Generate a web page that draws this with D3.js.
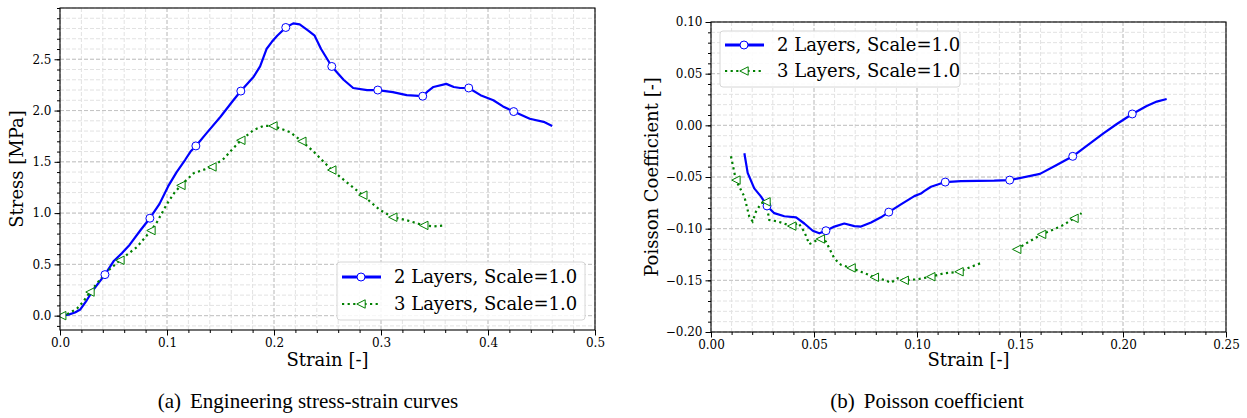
<!DOCTYPE html>
<html>
<head>
<meta charset="utf-8">
<script src="https://cdn.jsdelivr.net/npm/d3@7"></script>
<style>
body { margin: 0; background: #fff; }
svg { display: block; }
.tick text { font-family: "DejaVu Serif", serif; font-size: 12px; fill: #000; }
.label { font-family: "DejaVu Serif", serif; font-size: 18px; fill: #000; }
.legend text { font-family: "DejaVu Serif", serif; font-size: 18px; fill: #000; }
.caption { font-family: "Liberation Serif", "Times New Roman", serif; font-size: 21px; fill: #000; }
</style>
</head>
<body>
<div id="chart"></div>
<script>

// (a) stress-strain, 2 layers
var strainA2 = [0, 0.008, 0.014, 0.019, 0.025, 0.031, 0.042, 0.050, 0.058, 0.065, 0.075, 0.084, 0.093, 0.101,
    0.109, 0.117, 0.122, 0.127, 0.137, 0.150, 0.162, 0.169, 0.181, 0.187, 0.193, 0.198, 0.203, 0.211, 0.218, 0.224,
    0.232, 0.238, 0.244, 0.254, 0.265, 0.274, 0.287, 0.297, 0.311, 0.324, 0.339, 0.344, 0.349, 0.361, 0.368,
    0.374, 0.382, 0.393, 0.405, 0.414, 0.424, 0.439, 0.452, 0.460];
var stressA2 = [0, 0.01, 0.03, 0.06, 0.15, 0.25, 0.40, 0.53, 0.61, 0.69, 0.83, 0.95, 1.09, 1.26,
    1.40, 1.52, 1.60, 1.655, 1.78, 1.94, 2.10, 2.19, 2.33, 2.43, 2.60, 2.67, 2.73, 2.81, 2.85, 2.84,
    2.78, 2.73, 2.60, 2.43, 2.30, 2.22, 2.20, 2.20, 2.18, 2.15, 2.14, 2.19, 2.23, 2.26, 2.23,
    2.22, 2.22, 2.15, 2.10, 2.04, 1.99, 1.92, 1.89, 1.85];
var markStrainA2 = [0.042, 0.084, 0.127, 0.169, 0.211, 0.254, 0.297, 0.339, 0.382, 0.424];
var markStressA2 = [0.40, 0.95, 1.655, 2.19, 2.81, 2.43, 2.20, 2.14, 2.22, 1.99];

// (a) stress-strain, 3 layers
var strainA3 = [0.0016, 0.008, 0.016, 0.022, 0.028, 0.035, 0.042, 0.056, 0.072, 0.085, 0.090, 0.100, 0.107,
    0.113, 0.125, 0.142, 0.153, 0.160, 0.169, 0.181, 0.190, 0.199, 0.215, 0.226, 0.237, 0.254, 0.268,
    0.283, 0.290, 0.299, 0.311, 0.324, 0.340, 0.349, 0.359];
var stressA3 = [0, 0.02, 0.07, 0.14, 0.23, 0.32, 0.41, 0.54, 0.67, 0.83, 0.90, 1.09, 1.20,
    1.27, 1.39, 1.45, 1.53, 1.61, 1.71, 1.81, 1.85, 1.85, 1.79, 1.70, 1.60, 1.42, 1.30,
    1.175, 1.11, 1.03, 0.96, 0.93, 0.88, 0.87, 0.88];
var markStrainA3 = [0.0016, 0.028, 0.056, 0.085, 0.113, 0.142, 0.169, 0.199, 0.226, 0.254, 0.283, 0.311, 0.340];
var markStressA3 = [0, 0.23, 0.54, 0.83, 1.27, 1.45, 1.71, 1.85, 1.70, 1.42, 1.175, 0.96, 0.88];

// (b) poisson coefficient, 2 layers
var strainB2 = [0.0162, 0.0178, 0.021, 0.0243, 0.0272, 0.0307, 0.0356, 0.0413, 0.0453, 0.0494, 0.0526, 0.0558,
    0.0599, 0.0647, 0.0696, 0.0728, 0.0777, 0.0825, 0.0863, 0.0922, 0.0987, 0.1019, 0.1035, 0.1068, 0.1137,
    0.1213, 0.1375, 0.1450, 0.1597, 0.1678, 0.1756, 0.1840, 0.1905, 0.197, 0.2045, 0.2115, 0.2164, 0.2212];
var poissonB2 = [-0.027, -0.046, -0.061, -0.069, -0.078, -0.085, -0.088, -0.089, -0.095, -0.102, -0.1045, -0.102,
    -0.098, -0.095, -0.0975, -0.098, -0.094, -0.089, -0.084, -0.0765, -0.0685, -0.066, -0.0636, -0.0594, -0.0549,
    -0.054, -0.0536, -0.053, -0.047, -0.0384, -0.030, -0.0174, -0.0077, 0.0013, 0.011, 0.0187, 0.023, 0.0255];
var markStrainB2 = [0.0272, 0.0558, 0.0863, 0.1137, 0.1450, 0.1756, 0.2045];
var markPoissonB2 = [-0.078, -0.102, -0.084, -0.0549, -0.053, -0.030, 0.011];

// (b) poisson coefficient, 3 layers (null = missing values)
var strainB3 = [0.0097, 0.0121, 0.0162, 0.0186, 0.0202, 0.0218, 0.0243, 0.0267, 0.0283, 0.0324, 0.0392, 0.0424,
    0.0453, 0.0477, 0.0510, 0.0531, 0.0558, 0.0599, 0.0631, 0.0680, 0.0728, 0.0793, 0.0842, 0.0874, 0.0906,
    0.0938, 0.1002, 0.1067, 0.1131, 0.1204, 0.1261, 0.1306, null, 0.1484, 0.1532, 0.1605, 0.1661, 0.171,
    0.1762, 0.1799];
var poissonB3 = [-0.030, -0.053, -0.069, -0.0885, -0.093, -0.0836, -0.0755, -0.074, -0.0916, -0.093, -0.0975, -0.0943,
    -0.103, -0.115, -0.1117, -0.110, -0.1126, -0.129, -0.135, -0.138, -0.1417, -0.147, -0.1497, -0.1523, -0.148,
    -0.150, -0.149, -0.1465, -0.1432, -0.1417, -0.137, -0.1336, null, -0.120, -0.114, -0.1055, -0.101, -0.0965,
    -0.090, -0.085];
var markStrainB3 = [0.0121, 0.0267, 0.0392, 0.0531, 0.0680, 0.0793, 0.0938, 0.1067, 0.1204, 0.1484, 0.1605, 0.1762];
var markPoissonB3 = [-0.053, -0.074, -0.0975, -0.110, -0.138, -0.147, -0.150, -0.1465, -0.1417, -0.120, -0.1055, -0.090];

var seriesNames = ['2 Layers, Scale=1.0', '3 Layers, Scale=1.0'];
var captions = [['(a)', 'Engineering stress-strain curves'], ['(b)', 'Poisson coefficient']];

var width = 1247;
var height = 418;

var svg = d3.select('#chart')
    .append('svg')
    .attr('width', width)
    .attr('height', height);

var zip = function (xs, ys) {
    return xs.map(function (v, i) {
        return [v, ys[i]];
    });
};

var triangle = function (r) {
    return 'M' + (-r) + ',0L' + r + ',' + (-r) + 'L' + r + ',' + r + 'Z';
};

function drawPanel(cfg) {
    var g = svg.append('g');

    var x = d3.scaleLinear().domain(cfg.xDomain).range([cfg.left, cfg.right]);
    var y = d3.scaleLinear().domain(cfg.yDomain).range([cfg.bottom, cfg.top]);

    var xMinor = d3.range(Math.ceil(cfg.xDomain[0] / cfg.xMinor - 1e-6), Math.floor(cfg.xDomain[1] / cfg.xMinor + 1e-6) + 1)
        .map(function (k) { return k * cfg.xMinor; });
    var yMinor = d3.range(Math.ceil(cfg.yDomain[0] / cfg.yMinor - 1e-6), Math.floor(cfg.yDomain[1] / cfg.yMinor + 1e-6) + 1)
        .map(function (k) { return k * cfg.yMinor; });

    // grid, minor then major
    var grid = g.append('g');
    grid.selectAll('line.xmin').data(xMinor).enter().append('line')
        .attr('x1', function (d) { return x(d); }).attr('x2', function (d) { return x(d); })
        .attr('y1', cfg.top).attr('y2', cfg.bottom)
        .attr('stroke', '#e2e2e2').attr('stroke-width', 1).attr('stroke-dasharray', '4,2');
    grid.selectAll('line.ymin').data(yMinor).enter().append('line')
        .attr('y1', function (d) { return y(d); }).attr('y2', function (d) { return y(d); })
        .attr('x1', cfg.left).attr('x2', cfg.right)
        .attr('stroke', '#e2e2e2').attr('stroke-width', 1).attr('stroke-dasharray', '4,2');
    grid.selectAll('line.xmaj').data(cfg.xTicks).enter().append('line')
        .attr('x1', function (d) { return x(d); }).attr('x2', function (d) { return x(d); })
        .attr('y1', cfg.top).attr('y2', cfg.bottom)
        .attr('stroke', '#c4c4c4').attr('stroke-width', 1).attr('stroke-dasharray', '4,2');
    grid.selectAll('line.ymaj').data(cfg.yTicks).enter().append('line')
        .attr('y1', function (d) { return y(d); }).attr('y2', function (d) { return y(d); })
        .attr('x1', cfg.left).attr('x2', cfg.right)
        .attr('stroke', '#c4c4c4').attr('stroke-width', 1).attr('stroke-dasharray', '4,2');

    // curves
    var clipId = 'clip' + cfg.id;
    g.append('clipPath').attr('id', clipId).append('rect')
        .attr('x', cfg.left).attr('y', cfg.top)
        .attr('width', cfg.right - cfg.left).attr('height', cfg.bottom - cfg.top);

    var plot = g.append('g').attr('clip-path', 'url(#' + clipId + ')');

    var line = d3.line()
        .defined(function (d) { return d[0] !== null && d[1] !== null; })
        .x(function (d) { return x(d[0]); })
        .y(function (d) { return y(d[1]); });

    plot.append('path')
        .datum(cfg.blue)
        .attr('d', line)
        .attr('fill', 'none')
        .attr('stroke', 'blue')
        .attr('stroke-width', 2.2)
        .attr('stroke-linejoin', 'round');

    plot.append('path')
        .datum(cfg.green)
        .attr('d', line)
        .attr('fill', 'none')
        .attr('stroke', 'green')
        .attr('stroke-width', 2.2)
        .attr('stroke-dasharray', '2.2,3.4');

    plot.selectAll('circle.mk').data(cfg.blueMarks).enter().append('circle')
        .attr('cx', function (d) { return x(d[0]); })
        .attr('cy', function (d) { return y(d[1]); })
        .attr('r', 4)
        .attr('fill', '#fff')
        .attr('stroke', 'blue')
        .attr('stroke-width', 1);

    plot.selectAll('path.mk').data(cfg.greenMarks).enter().append('path')
        .attr('transform', function (d) { return 'translate(' + x(d[0]) + ',' + y(d[1]) + ')'; })
        .attr('d', triangle(4.2))
        .attr('fill', '#fff')
        .attr('stroke', 'green')
        .attr('stroke-width', 1);

    // axes
    var xAxis = g.append('g')
        .attr('transform', 'translate(0,' + cfg.bottom + ')');
    xAxis.call(d3.axisBottom(x).tickValues(xMinor).tickSize(3).tickFormat(''));
    xAxis.append('g').call(d3.axisBottom(x).tickValues(cfg.xTicks).tickSize(5.5).tickPadding(3).tickFormat(d3.format(cfg.xFormat)));

    var yAxis = g.append('g')
        .attr('transform', 'translate(' + cfg.left + ',0)');
    yAxis.call(d3.axisLeft(y).tickValues(yMinor).tickSize(3).tickFormat(''));
    yAxis.append('g').call(d3.axisLeft(y).tickValues(cfg.yTicks).tickSize(5.5).tickPadding(3).tickFormat(d3.format(cfg.yFormat)));

    g.selectAll('.domain').remove();
    g.selectAll('.tick line').attr('stroke', '#000');
    g.selectAll('.tick text').attr('font-family', null).attr('font-size', null);

    g.append('rect')
        .attr('x', cfg.left).attr('y', cfg.top)
        .attr('width', cfg.right - cfg.left).attr('height', cfg.bottom - cfg.top)
        .attr('fill', 'none')
        .attr('stroke', '#000')
        .attr('stroke-width', 1.1);

    g.append('text')
        .attr('class', 'label')
        .attr('x', (cfg.left + cfg.right) / 2)
        .attr('y', 366)
        .style('text-anchor', 'middle')
        .text('Strain [-]');

    g.append('text')
        .attr('class', 'label')
        .attr('transform', 'translate(' + cfg.yLabelX + ',' + (cfg.top + cfg.bottom) / 2 + ') rotate(-90)')
        .attr('dy', '0.35em')
        .style('text-anchor', 'middle')
        .text(cfg.yLabel);

    // legend
    var leg = g.append('g').attr('class', 'legend')
        .attr('transform', 'translate(' + cfg.legend[0] + ',' + cfg.legend[1] + ')');
    leg.append('rect')
        .attr('width', cfg.legend[2]).attr('height', cfg.legend[3])
        .attr('rx', 3)
        .attr('fill', '#fff').attr('fill-opacity', 0.85)
        .attr('stroke', '#d6d6d6').attr('stroke-width', 1);

    var rows = leg.selectAll('g.row').data(seriesNames).enter().append('g')
        .attr('transform', function (d, i) { return 'translate(0,' + cfg.legendRows[i] + ')'; });
    rows.append('line')
        .attr('x1', 5).attr('x2', 44).attr('y1', 0).attr('y2', 0)
        .attr('stroke', function (d, i) { return i === 0 ? 'blue' : 'green'; })
        .attr('stroke-width', function (d, i) { return i === 0 ? 3 : 2.2; })
        .attr('stroke-dasharray', function (d, i) { return i === 0 ? null : '2.2,3.4'; });
    rows.filter(function (d, i) { return i === 0; }).append('circle')
        .attr('cx', 24).attr('cy', 0).attr('r', 4)
        .attr('fill', '#fff').attr('stroke', 'blue').attr('stroke-width', 1);
    rows.filter(function (d, i) { return i === 1; }).append('path')
        .attr('transform', 'translate(24,0)')
        .attr('d', triangle(4.2))
        .attr('fill', '#fff').attr('stroke', 'green').attr('stroke-width', 1);
    rows.append('text')
        .attr('x', 57).attr('y', 0).attr('dy', '0.36em')
        .text(function (d) { return d; });

    // caption
    var cap = g.append('text')
        .attr('class', 'caption')
        .attr('x', cfg.captionX)
        .attr('y', 408)
        .style('text-anchor', 'middle');
    cap.append('tspan').text(cfg.caption[0]);
    cap.append('tspan').attr('dx', 9).text(cfg.caption[1]);
}

drawPanel({
    id: 'a',
    left: 60, right: 595, top: 8, bottom: 330,
    xDomain: [0, 0.5], yDomain: [-0.14, 3.0],
    xTicks: [0, 0.1, 0.2, 0.3, 0.4, 0.5], yTicks: [0, 0.5, 1.0, 1.5, 2.0, 2.5],
    xMinor: 0.02, yMinor: 0.1,
    xFormat: '.1f', yFormat: '.1f',
    yLabel: 'Stress [MPa]', yLabelX: 17,
    blue: zip(strainA2, stressA2), blueMarks: zip(markStrainA2, markStressA2),
    green: zip(strainA3, stressA3), greenMarks: zip(markStrainA3, markStressA3),
    legend: [337, 262, 248, 58], legendRows: [15, 42],
    caption: captions[0], captionX: 308
});

drawPanel({
    id: 'b',
    left: 711, right: 1226, top: 22, bottom: 332,
    xDomain: [0, 0.25], yDomain: [-0.2, 0.1],
    xTicks: [0, 0.05, 0.10, 0.15, 0.20, 0.25], yTicks: [-0.20, -0.15, -0.10, -0.05, 0, 0.05, 0.10],
    xMinor: 0.01, yMinor: 0.01,
    xFormat: '.2f', yFormat: '.2f',
    yLabel: 'Poisson Coefficient [-]', yLabelX: 652,
    blue: zip(strainB2, poissonB2), blueMarks: zip(markStrainB2, markPoissonB2),
    green: zip(strainB3, poissonB3), greenMarks: zip(markStrainB3, markPoissonB3),
    legend: [720, 31, 240, 56], legendRows: [14, 40],
    caption: captions[1], captionX: 927
});

</script>
</body>
</html>
